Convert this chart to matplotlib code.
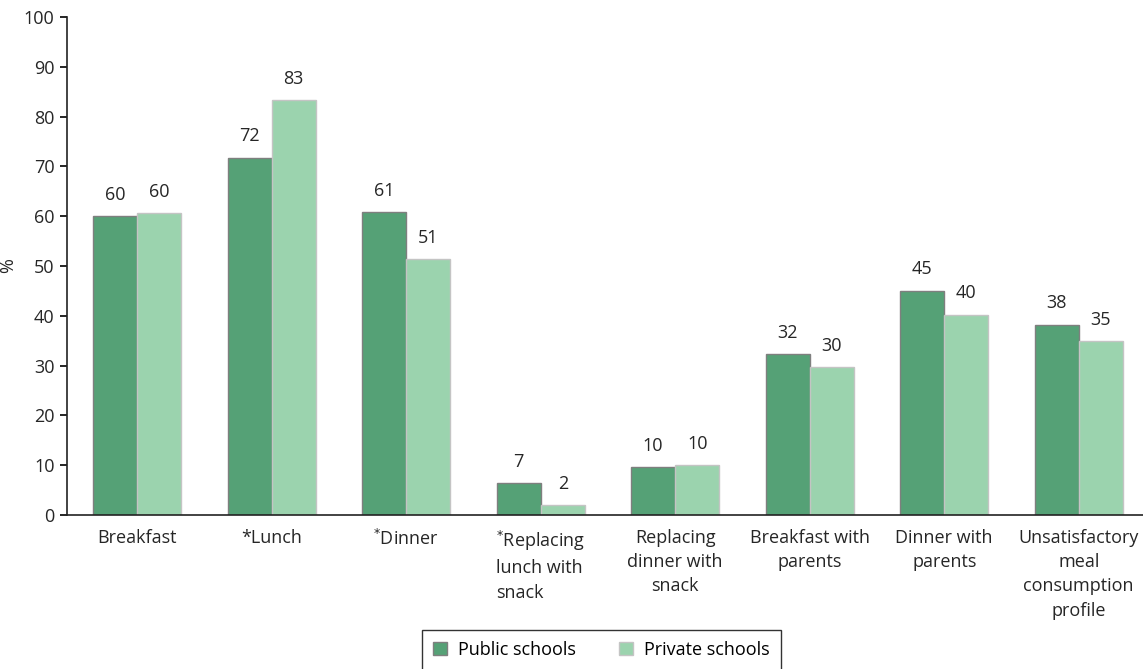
import matplotlib.pyplot as plt
import numpy as np

plt.rcParams['font.family'] = ['Open Sans', 'DejaVu Sans']

categories = ['Breakfast', '*Lunch', r'$^{*}$Dinner', r'$^{*}$Replacing' + '\nlunch with\nsnack',
              'Replacing\ndinner with\nsnack', 'Breakfast with\nparents', 'Dinner with\nparents',
              'Unsatisfactory\nmeal\nconsumption\nprofile']
public = [60.0, 71.7, 60.8, 6.4, 9.6, 32.3, 45.0, 38.2]
private = [60.6, 83.3, 51.4, 2.0, 10.0, 29.7, 40.2, 34.9]
public_labels = ['60', '72', '61', '7', '10', '32', '45', '38']
private_labels = ['60', '83', '51', '2', '10', '30', '40', '35']

fig = plt.figure(figsize=(11.43, 6.69), dpi=100)
ax = fig.add_axes([67 / 1143, 154 / 669, 1076 / 1143, 498 / 669])

x = np.arange(len(categories))
w = 0.328
b1 = ax.bar(x - w / 2, public, w, color='#55a176', edgecolor='#7f7f7f', linewidth=1, label='Public schools')
b2 = ax.bar(x + w / 2, private, w, color='#9bd3ae', edgecolor='#c4c4c4', linewidth=1, label='Private schools')
ax.bar_label(b1, labels=public_labels, padding=9, fontsize=13, color='#262626')
ax.bar_label(b2, labels=private_labels, padding=9, fontsize=13, color='#262626')

ax.set_xlim(-0.522, 7.478)
ax.set_ylim(0, 100)
ax.set_yticks(range(0, 101, 10))
ax.set_xticks(x)
ax.set_xticklabels(categories, fontsize=13, color='#262626', linespacing=1.45)
for i, t in enumerate(ax.get_xticklabels()):
    t.set_multialignment('left' if i == 3 else 'center')
ax.tick_params(axis='x', length=0, pad=10)
ax.tick_params(axis='y', direction='out', length=5, width=1.2, labelsize=13, labelcolor='#262626', pad=4)
ax.set_ylabel('%', fontsize=13, color='#262626')
ax.yaxis.set_label_coords(-0.0465, 0.5)

for s in ['top', 'right']:
    ax.spines[s].set_visible(False)
for s in ['left', 'bottom']:
    ax.spines[s].set_linewidth(1.2)
    ax.spines[s].set_color('#222222')

leg = fig.legend(handles=[b1, b2], loc='upper center', bbox_to_anchor=(0.526, 0.0583), ncol=2,
                 fontsize=13, frameon=True, fancybox=False, edgecolor='black', borderaxespad=0,
                 handlelength=0.8, handleheight=0.8, handletextpad=0.6, columnspacing=2.4,
                 borderpad=0.6)
leg.get_frame().set_linewidth(1.0)

fig.savefig('out.png', dpi=100)
